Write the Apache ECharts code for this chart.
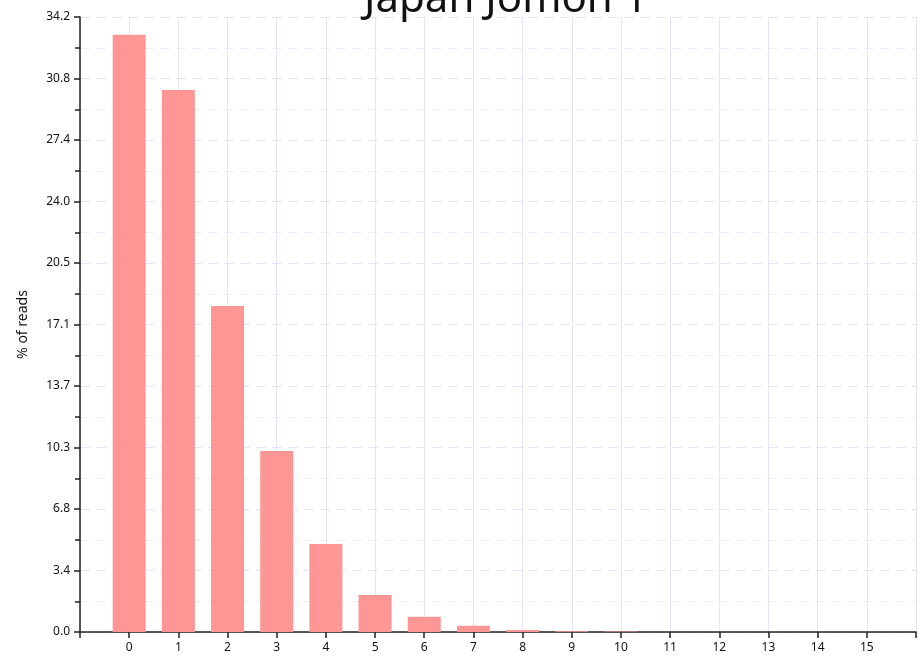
<!DOCTYPE html>
<html><head><meta charset="utf-8">
<script src="https://cdn.jsdelivr.net/npm/echarts@6/dist/echarts.min.js"></script>
<style>html,body{margin:0;padding:0;background:#fff}#c{width:919px;height:656px}</style>
</head><body><div id="c"></div>
<script>
var titleText = "Japan Jomon 1";
var yAxisName = "% of reads";
var categories = [0,1,2,3,4,5,6,7,8,9,10,11,12,13,14,15];
var values = [33.24,30.16,18.14,10.07,4.90,2.06,0.85,0.35,0.11,0.04,0.03,0,0,0,0,0];
var yMax = 34.23;

var chart = echarts.init(document.getElementById('c'));
var grid = '#e6e4fb';
chart.setOption({
  animation:false,
  title:{text:titleText,left:359,top:-26,textStyle:{fontFamily:'Noto Sans',fontSize:42,fontWeight:'normal',color:'#111'}},
  grid:{left:80,right:-3,top:17,bottom:24,containLabel:false},
  xAxis:{type:'value',min:-1,max:16,interval:1,
    axisLine:{onZero:false,lineStyle:{color:'#222',width:1.5}},
    axisTick:{show:true,length:6,lineStyle:{color:'#222',width:1.5}},
    axisLabel:{margin:10,fontFamily:'Noto Sans',fontSize:12,color:'#111',
      formatter:function(v){return categories.indexOf(v)>=0?String(v):'';}},
    splitLine:{show:true,lineStyle:{color:grid,width:1}}},
  yAxis:{type:'value',min:0,max:yMax,interval:yMax/10,name:yAxisName,nameLocation:'middle',nameGap:50,
    nameTextStyle:{fontFamily:'Noto Sans',fontSize:14,color:'#111'},
    axisLine:{show:true,onZero:false,lineStyle:{color:'#222',width:1.5}},
    axisTick:{show:true,length:6,lineStyle:{color:'#222',width:1.5}},
    minorTick:{show:true,splitNumber:2,length:5,lineStyle:{color:'#222',width:1.5}},
    axisLabel:{margin:10,fontFamily:'Noto Sans',fontSize:12,color:'#111',formatter:function(v){return v.toFixed(1);}},
    splitLine:{show:true,lineStyle:{color:grid,type:[10,6],width:1}},
    minorSplitLine:{show:true,lineStyle:{color:'#efeefb',type:[10,6],width:1}}},
  series:[{type:'bar',barWidth:33,
    itemStyle:{color:'#ff9696'},
    data:categories.map(function(c,i){return [c,values[i]];})}]
});
</script></body></html>
